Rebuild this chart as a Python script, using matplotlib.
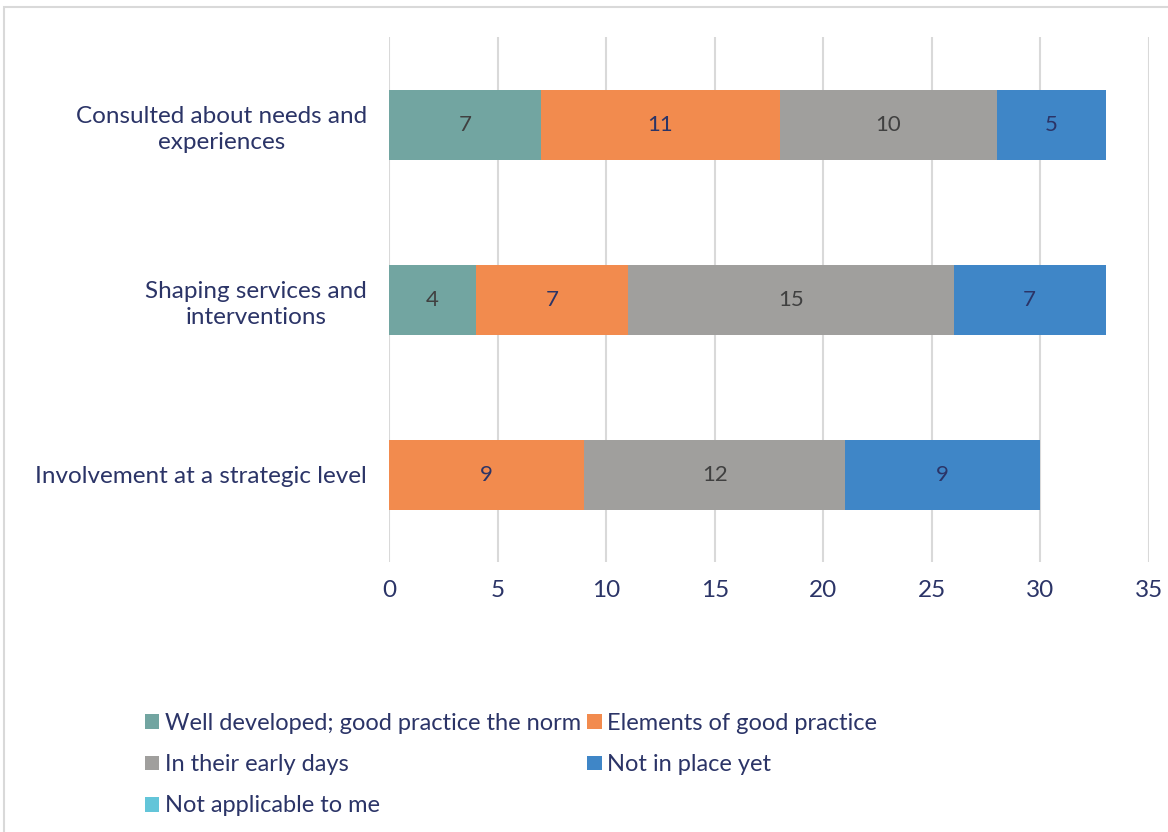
import matplotlib.pyplot as plt
from matplotlib.patches import Rectangle
import numpy as np

plt.rcParams['font.family'] = ['Lato', 'DejaVu Sans']

categories = ["Consulted about needs and\nexperiences",
              "Shaping services and\ninterventions",
              "Involvement at a strategic level"]
series_names = ["Well developed; good practice the norm", "Elements of good practice",
                "In their early days", "Not in place yet", "Not applicable to me"]
well_developed = [7, 4, 0]
elements = [11, 7, 9]
early_days = [10, 15, 12]
not_in_place = [5, 7, 9]
not_applicable = [0, 0, 0]

colors = ["#72A5A1", "#F28B4E", "#A09F9D", "#3F86C7", "#63C5D9"]
label_colors = ["#404040", "#2B3467", "#404040", "#2B3467", "#404040"]
navy = "#2B3467"

fig = plt.figure(figsize=(11.68, 8.32), dpi=100)
ax = fig.add_axes([389 / 1168, 1 - 562 / 832, (1149 - 389) / 1168, (562 - 37) / 832])

# outer chart border (only top and left are visible)
fig.patches.append(Rectangle((4 / 1168, -0.1), 1.2, 1.1 - 7 / 832, transform=fig.transFigure,
                             fill=False, edgecolor="#D9D9D9", linewidth=1.5))

y = np.arange(len(categories))
left = np.zeros(len(categories))
handles = []
for name, vals, c, lc in zip(series_names,
                             [well_developed, elements, early_days, not_in_place, not_applicable],
                             colors, label_colors):
    vals = np.array(vals, dtype=float)
    bars = ax.barh(y, vals, left=left, height=0.4, color=c, label=name, zorder=3)
    for yi, v, l in zip(y, vals, left):
        if v > 0:
            ax.text(l + v / 2, yi, f"{int(v)}", ha="center", va="center",
                    fontsize=16, color=lc, zorder=4)
    handles.append(bars)
    left += vals

ax.set_xlim(0, 35)
ax.set_ylim(2.5, -0.5)
ax.set_xticks(range(0, 36, 5))
ax.set_yticks(y)
ax.set_yticklabels(categories, multialignment="center", linespacing=1.35)
ax.tick_params(axis="both", length=0, labelsize=17.5, labelcolor=navy)
ax.tick_params(axis="y", pad=16)
ax.tick_params(axis="x", pad=13)
ax.grid(axis="x", color="#D9D9D9", linewidth=1.5, zorder=0)
for s in ax.spines.values():
    s.set_visible(False)

order = [0, 2, 4, 1, 3]
fig.legend([handles[i] for i in order], [series_names[i] for i in order],
           loc="upper left", bbox_to_anchor=(124 / 1168, 1 - 692 / 832), ncol=2,
           frameon=False, fontsize=17, labelcolor=navy, handlelength=0.6, handleheight=0.6,
           handletextpad=0.25, columnspacing=0.25, labelspacing=0.85)

fig.savefig("out.png", dpi=100)
